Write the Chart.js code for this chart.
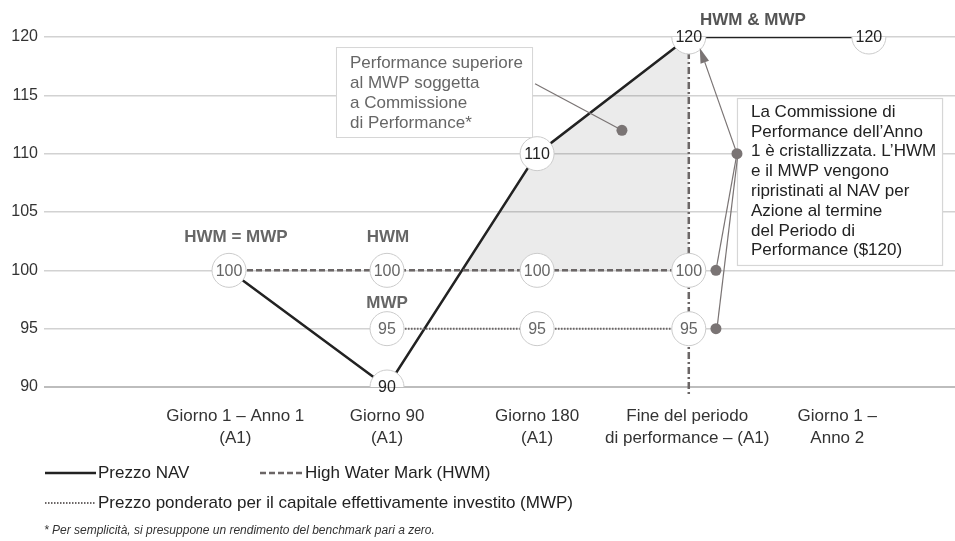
<!DOCTYPE html>
<html lang="it">
<head>
  <meta charset="UTF-8" />
  <title>HWM e MWP - Commissione di Performance</title>
  <style>
    html, body { margin: 0; padding: 0; background: #fff; }
    canvas { display: block; }
  </style>
</head>
<body>
  <canvas id="chart" width="955" height="541"></canvas>

  <script src="https://cdn.jsdelivr.net/npm/chart.js"></script>
  <script>
    // dati
    const xLabels = [
      ["Giorno 1 – Anno 1", "(A1)"],
      ["Giorno 90", "(A1)"],
      ["Giorno 180", "(A1)"],
      ["Fine del periodo", "di performance – (A1)"],
      ["Giorno 1 –", "Anno 2"]
    ];
    const labelPos = [0.04, 1, 1.95, 2.9, 3.85];
    const yTicks = [90, 95, 100, 105, 110, 115, 120];

    const navX = [0, 1, 1.95, 2.91, 4.05];
    const navY = [100, 90, 110, 120, 120];
    const hwmX = [0, 1, 1.95, 2.91];
    const hwmY = [100, 100, 100, 100];
    const mwpX = [1, 1.95, 2.91];
    const mwpY = [95, 95, 95];

    const FONT = '"Liberation Sans", Arial, sans-serif';

    const pts = (xs, ys) => xs.map((v, i) => ({ x: v, y: ys[i] }));

    function text(ctx, s, x, y, font, color, align) {
      ctx.font = font;
      ctx.fillStyle = color;
      ctx.textAlign = align || "center";
      ctx.textBaseline = "middle";
      ctx.fillText(s, x, y);
    }

    function dot(ctx, x, y) {
      ctx.fillStyle = "#7a7474";
      ctx.beginPath();
      ctx.arc(x, y, 5.5, 0, Math.PI * 2);
      ctx.fill();
    }

    function seg(ctx, x1, y1, x2, y2) {
      ctx.strokeStyle = "#7a7474";
      ctx.lineWidth = 1.2;
      ctx.setLineDash([]);
      ctx.beginPath();
      ctx.moveTo(x1, y1);
      ctx.lineTo(x2, y2);
      ctx.stroke();
    }

    const decor = {
      id: "decor",
      beforeDatasetsDraw(chart) {
        const { ctx, chartArea } = chart;
        const X = v => chart.scales.x.getPixelForValue(v);
        const Y = v => chart.scales.y.getPixelForValue(v);
        ctx.save();
        // area sopra l'HWM
        const t = (hwmY[1] - navY[1]) / (navY[2] - navY[1]);
        const xc = navX[1] + t * (navX[2] - navX[1]);
        ctx.fillStyle = "rgba(0,0,0,0.08)";
        ctx.beginPath();
        ctx.moveTo(X(xc), Y(hwmY[1]));
        ctx.lineTo(X(navX[2]), Y(navY[2]));
        ctx.lineTo(X(navX[3]), Y(navY[3]));
        ctx.lineTo(X(hwmX[3]), Y(hwmY[3]));
        ctx.closePath();
        ctx.fill();
        // linea fine periodo
        ctx.strokeStyle = "#6b6666";
        ctx.lineWidth = 2.5;
        ctx.setLineDash([7, 3, 2, 3]);
        ctx.beginPath();
        ctx.moveTo(X(navX[3]), Y(navY[3]));
        ctx.lineTo(X(navX[3]), chartArea.bottom + 10);
        ctx.stroke();
        ctx.restore();
      },
      afterDatasetsDraw(chart) {
        const { ctx } = chart;
        const X = v => chart.scales.x.getPixelForValue(v);
        const Y = v => chart.scales.y.getPixelForValue(v);
        ctx.save();

        // etichette nei cerchi
        chart.data.datasets.forEach((ds, di) => {
          chart.getDatasetMeta(di).data.forEach((el, i) => {
            if (el.options.radius <= 0) return;
            text(ctx, String(ds.data[i].y), el.x, el.y + 1, "16px " + FONT, ds.labelColor);
          });
        });

        // etichette in grassetto
        text(ctx, "HWM = MWP", X(0.044), Y(102.86), "bold 17px " + FONT, "#666");
        text(ctx, "HWM", X(1.006), Y(102.86), "bold 17px " + FONT, "#666");
        text(ctx, "MWP", X(1.0), Y(97.2), "bold 17px " + FONT, "#666");
        text(ctx, "HWM & MWP", X(3.316), Y(121.46), "bold 17px " + FONT, "#555");

        // riquadro 1
        let bx = X(0.677), by = Y(119.14), bw = X(1.918) - bx, bh = Y(111.43) - by;
        ctx.fillStyle = "#fff";
        ctx.fillRect(bx, by, bw, bh);
        ctx.strokeStyle = "#d6d6d6";
        ctx.lineWidth = 1;
        ctx.strokeRect(bx + 0.5, by + 0.5, bw, bh);
        ["Performance superiore", "al MWP soggetta", "a Commissione", "di Performance*"]
          .forEach((s, i) => text(ctx, s, bx + 14, by + 16 + i * 20, "17px " + FONT, "#666", "left"));
        seg(ctx, bx + bw + 3, Y(116), X(2.487), Y(112));
        dot(ctx, X(2.487), Y(112));

        // riquadro 2
        bx = X(3.215); by = Y(114.77); bw = X(4.513) - bx; bh = Y(100.46) - by;
        ctx.fillStyle = "#fff";
        ctx.fillRect(bx, by, bw, bh);
        ctx.strokeStyle = "#d6d6d6";
        ctx.strokeRect(bx + 0.5, by + 0.5, bw, bh);
        ["La Commissione di", "Performance dell’Anno", "1 è cristallizzata. L’HWM", "e il MWP vengono",
         "ripristinati al NAV per", "Azione al termine", "del Periodo di", "Performance ($120)"]
          .forEach((s, i) => text(ctx, s, bx + 14, by + 14 + i * 19.8, "17px " + FONT, "#222", "left"));

        const ax = X(3.215), ay = Y(110);
        const dx = X(3.082);
        seg(ctx, dx, Y(100), ax, ay);
        seg(ctx, dx + 1, Y(95), ax + 1, ay);
        // freccia verso 120
        const tx = X(navX[3]) + 11, ty = Y(navY[3]) + 11;
        const ang = Math.atan2(ty - ay, tx - ax);
        const hx = tx - 15 * Math.cos(ang), hy = ty - 15 * Math.sin(ang);
        seg(ctx, ax, ay, hx, hy);
        ctx.fillStyle = "#7a7474";
        ctx.beginPath();
        ctx.moveTo(tx, ty);
        ctx.lineTo(hx + 4.5 * Math.sin(ang), hy - 4.5 * Math.cos(ang));
        ctx.lineTo(hx - 4.5 * Math.sin(ang), hy + 4.5 * Math.cos(ang));
        ctx.closePath();
        ctx.fill();
        dot(ctx, ax, ay);
        dot(ctx, dx, Y(100));
        dot(ctx, dx, Y(95));
        ctx.restore();
      },
      afterDraw(chart) {
        // legenda e nota
        const { ctx } = chart;
        const ds = chart.data.datasets;
        const items = [[ds[2], 45, 473], [ds[0], 260, 473], [ds[1], 45, 503]];
        ctx.save();
        items.forEach(([d, x, y]) => {
          ctx.strokeStyle = d.borderColor;
          ctx.lineWidth = d.borderWidth;
          ctx.setLineDash(d.borderDash || []);
          ctx.beginPath();
          ctx.moveTo(x, y);
          ctx.lineTo(x + (d === ds[0] ? 43 : 51), y);
          ctx.stroke();
          text(ctx, d.label, x + (d === ds[0] ? 45 : 53), y, "17px " + FONT, "#222", "left");
        });
        text(ctx, "* Per semplicità, si presuppone un rendimento del benchmark pari a zero.",
          44, 531, "italic 12px " + FONT, "#333", "left");
        ctx.restore();
      }
    };

    const circle = { pointRadius: 17, pointBackgroundColor: "#fff", pointBorderColor: "#cbcbcb", pointBorderWidth: 1 };

    new Chart(document.getElementById("chart"), {
      type: "line",
      data: {
        datasets: [
          Object.assign({
            label: "High Water Mark (HWM)", data: pts(hwmX, hwmY),
            borderColor: "#6b6666", borderWidth: 2.5, borderDash: [6, 3], labelColor: "#666"
          }, circle),
          Object.assign({
            label: "Prezzo ponderato per il capitale effettivamente investito (MWP)", data: pts(mwpX, mwpY),
            borderColor: "#6b6666", borderWidth: 2, borderDash: [1.5, 1.5], labelColor: "#666"
          }, circle),
          Object.assign({}, circle, {
            label: "Prezzo NAV", data: pts(navX, navY),
            borderColor: "#222", borderWidth: 2.5, labelColor: "#222",
            pointRadius: ctx => ctx.dataIndex === 0 ? 0 : 17
          })
        ]
      },
      options: {
        responsive: false,
        animation: false,
        events: [],
        layout: { autoPadding: false, padding: { top: 37, left: 10, right: 0, bottom: 0 } },
        elements: { line: { tension: 0 } },
        plugins: { legend: { display: false }, tooltip: { enabled: false } },
        scales: {
          x: {
            type: "linear",
            min: -1.171, max: 4.595,
            grid: { display: false },
            border: { display: false },
            afterFit: s => { s.height = 154; s.paddingLeft = 0; s.paddingRight = 0; },
            afterBuildTicks: s => { s.ticks = labelPos.map(v => ({ value: v })); },
            ticks: {
              autoSkip: false, maxRotation: 0, minRotation: 0, padding: 10,
              color: "#333",
              font: { family: FONT, size: 17, lineHeight: 1.3 },
              callback: (v, i) => xLabels[i]
            }
          },
          y: {
            min: yTicks[0], max: yTicks[yTicks.length - 1],
            afterFit: s => { s.width = 34; s.paddingTop = 0; s.paddingBottom = 0; },
            afterBuildTicks: s => { s.ticks = yTicks.map(v => ({ value: v })); },
            border: { display: false },
            grid: {
              drawTicks: false,
              color: c => c.tick && c.tick.value === 90 ? "#bdbdbd" : "#d2d2d2",
              lineWidth: c => c.tick && c.tick.value === 90 ? 2 : 1.5
            },
            ticks: { padding: 6, color: "#333", font: { family: FONT, size: 16 } }
          }
        }
      },
      plugins: [decor]
    });
  </script>
</body>
</html>
